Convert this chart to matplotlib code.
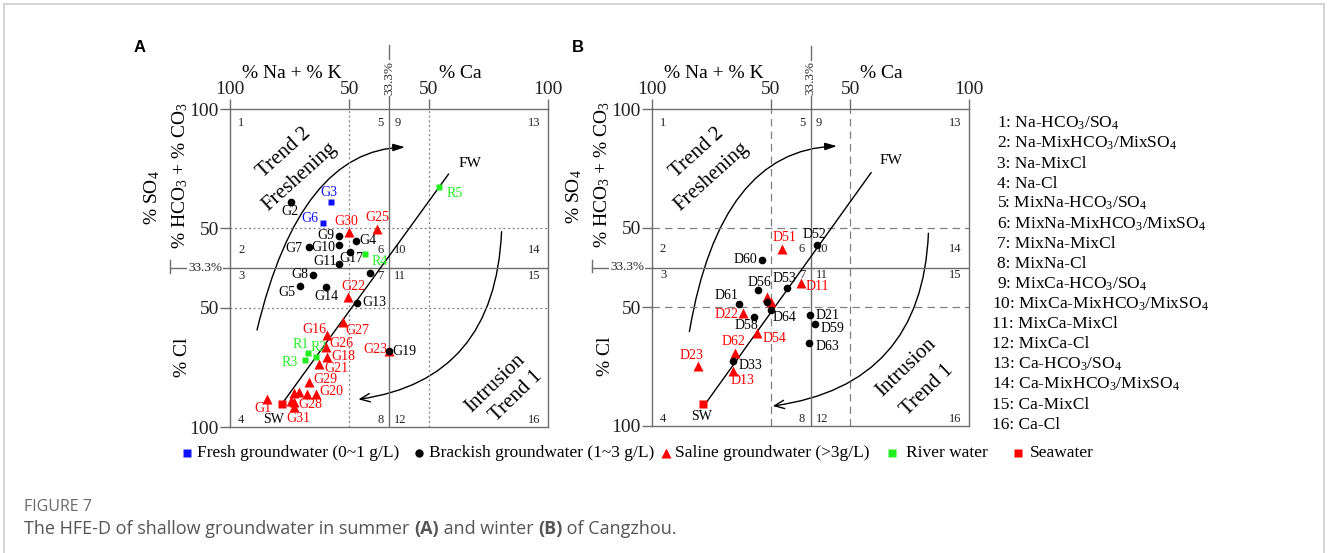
import matplotlib.pyplot as plt
from matplotlib.path import Path
from matplotlib.patches import FancyArrowPatch

plt.rcParams['font.family'] = ['Liberation Serif', 'DejaVu Serif']
plt.rcParams['mathtext.fontset'] = 'custom'
plt.rcParams['mathtext.rm'] = 'Liberation Serif'
plt.rcParams['mathtext.it'] = 'Liberation Serif:italic'

# ====== DATA (HFE-D diagram units: 0-100, 50% lines at 37.5 / 62.5, 33.3% at 50) ======
# --- summer (A) ---
a_fresh_id = ['G3', 'G6']
a_fresh_x = [31.7, 29.3]
a_fresh_y = [70.9, 64.2]

a_brack_id = ['G2', 'G9', 'G4', 'G7', 'G10', 'G17', 'G11', 'G8', '', 'G5', 'G14', 'G13', 'G19']
a_brack_x = [19.1, 34.2, 39.6, 24.7, 34.2, 37.8, 34.2, 26.2, 44.0, 21.9, 30.1, 40.0, 50.1]
a_brack_y = [70.7, 60.0, 58.6, 56.6, 57.2, 55.1, 51.3, 47.9, 48.4, 44.4, 43.9, 38.9, 24.0]

a_sal_id = ['G30', 'G25', 'G22', 'G27', 'G16', 'G26', 'G18', 'G21', 'G23', 'G29', 'G20',
            '', '', '', 'G28', '', 'G31', 'G1']
a_sal_x = [37.3, 46.2, 37.2, 35.6, 30.5, 30.3, 30.6, 28.1, 50.1, 24.9, 27.0,
           24.3, 21.8, 20.0, 20.2, 19.2, 20.2, 11.6]
a_sal_y = [61.4, 62.4, 40.9, 32.9, 29.0, 25.3, 21.9, 19.8, 24.0, 14.1, 10.3,
           10.3, 11.1, 10.7, 8.0, 8.2, 6.2, 8.7]

a_river_id = ['R5', 'R4', 'R1', 'R2', 'R3']
a_river_x = [65.6, 42.6, 24.6, 27.1, 23.6]
a_river_y = [75.4, 54.3, 23.2, 22.1, 21.2]

a_sea_id = ['SW']
a_sea_x = [16.3]
a_sea_y = [7.1]

# --- winter (B) ---
b_fresh_id, b_fresh_x, b_fresh_y = [], [], []

b_brack_id = ['D52', 'D60', 'D56', 'D53', 'D61', '', 'D64', 'D58', 'D21', 'D59', 'D63', 'D33']
b_brack_x = [52.1, 34.7, 33.3, 42.6, 27.5, 36.2, 37.5, 32.3, 49.8, 51.3, 49.5, 25.6]
b_brack_y = [57.1, 52.4, 42.9, 43.6, 38.4, 39.2, 36.6, 34.3, 35.0, 32.3, 26.1, 20.4]

b_sal_id = ['D51', 'D11', '', '', 'D22', 'D54', 'D62', 'D23', 'D13']
b_sal_x = [40.9, 46.9, 36.2, 37.4, 28.8, 33.2, 26.3, 14.4, 25.5]
b_sal_y = [55.7, 45.0, 40.6, 39.2, 35.6, 29.4, 22.9, 19.0, 17.4]

b_river_id, b_river_x, b_river_y = [], [], []

b_sea_id = ['SW']
b_sea_x = [16.2]
b_sea_y = [7.0]

# mixing line SW -> FW
a_mix_x = [15.7, 68.7]
a_mix_y = [6.4, 79.5]
b_mix_x = [16.2, 69.1]
b_mix_y = [6.1, 79.9]

# trend arrows (start, control, end)
a_fresh_arrow = [(8.5, 30.5), (22.0, 87.1), (55.0, 88.0)]
a_intr_arrow = [(85.4, 61.4), (83.3, 14.8), (40.4, 8.7)]
b_fresh_arrow = [(11.8, 29.8), (21.5, 87.1), (58.3, 88.3)]
b_intr_arrow = [(87.2, 60.8), (85.2, 12.9), (38.1, 6.3)]

water_types = ['Na-HCO$_3$/SO$_4$', 'Na-MixHCO$_3$/MixSO$_4$', 'Na-MixCl', 'Na-Cl',
               'MixNa-HCO$_3$/SO$_4$', 'MixNa-MixHCO$_3$/MixSO$_4$', 'MixNa-MixCl', 'MixNa-Cl',
               'MixCa-HCO$_3$/SO$_4$', 'MixCa-MixHCO$_3$/MixSO$_4$', 'MixCa-MixCl', 'MixCa-Cl',
               'Ca-HCO$_3$/SO$_4$', 'Ca-MixHCO$_3$/MixSO$_4$', 'Ca-MixCl', 'Ca-Cl']

# ====== LAYOUT ======
# label offsets in pixels (x right, y up)
LBL = {
    'G3': (-2, 9), 'G6': (-13, 4), 'G2': (-1, -9), 'G30': (-2, 10), 'G25': (0, 11),
    'G9': (-13, 1), 'G4': (12, 0), 'G7': (-15, -1), 'G10': (-15, -2), 'G17': (1, -7),
    'R4': (14, -7), 'G11': (-14, 2), 'G8': (-13, 0), 'G5': (-13, -7), 'G14': (1, -9),
    'G22': (5, 10), 'R5': (16, -6), 'G13': (17, 1), 'G27': (14, -8), 'G16': (-13, 5),
    'G26': (15, 3), 'R1': (-8, 9), 'R2': (3, 9), 'R3': (-15, -3), 'G18': (16, 1),
    'G21': (17, -4), 'G23': (-14, 1), 'G19': (15, -1), 'G29': (16, 3), 'G20': (16, 3),
    'G28': (16, -3), 'G31': (4, -11), 'G1': (-4, -9), 'SW_A': (-8, -15),
    'D51': (3, 12), 'D52': (-3, 10), 'D60': (-17, 0), 'D56': (2, 8), 'D53': (-3, 9),
    'D11': (17, -3), 'D61': (-13, 9), 'D22': (-17, -1), 'D64': (14, -8), 'D58': (-8, -8),
    'D21': (18, 0), 'D59': (18, -5), 'D54': (17, -6), 'D63': (18, -3), 'D62': (-2, 12),
    'D33': (17, -4), 'D23': (-6, 10), 'D13': (10, -10), 'SW_B': (-2, -13),
}

W, H = 1328, 553
fig = plt.figure(figsize=(W / 100, H / 100), dpi=100)

GRID = '#6e6e6e'
BLUE, RED, GREEN = '#1010ff', '#ff0000', '#22ee22'


def draw_panel(ax, tag, sets, mix_x, mix_y, fr_arrow, in_arrow, dash,
               fw_pos, trend2, fresh_pos, intr_pos, trend1):
    ax.set_xlim(0, 100)
    ax.set_ylim(0, 100)
    for s in ax.spines.values():
        s.set_color(GRID)
        s.set_linewidth(1)
    ax.xaxis.tick_top()
    ax.set_xticks([0, 37.5, 62.5, 100], ['100', '50', '50', '100'])
    ax.set_yticks([0, 37.5, 62.5, 100], ['100', '50', '50', '100'])
    ax.tick_params(length=7, width=1, color=GRID, labelsize=14, pad=1, labelcolor='#222222')

    # grid
    ax.axvline(50, color=GRID, lw=1)
    ax.axhline(50, color=GRID, lw=1)
    for v in (37.5, 62.5):
        ax.axvline(v, color='#808080', lw=0.9, ls=dash)
        ax.axhline(v, color='#808080', lw=0.9, ls=dash)

    # 33.3% markers outside
    ax.plot([50, 50], [100, 120], color=GRID, lw=1, clip_on=False)
    ax.text(50, 109.7, '33.3%', rotation=90, ha='center', va='center', fontsize=9.5,
            color='#222222', bbox=dict(fc='white', ec='none', pad=0.5), clip_on=False)
    ax.plot([-18.9, 0], [50, 50], color=GRID, lw=1, clip_on=False)
    ax.plot([-18.9, -18.9], [48.5, 52.5], color=GRID, lw=1, clip_on=False)
    ax.text(-7.9, 50, '33.3%', ha='center', va='center', fontsize=9.5, color='#222222',
            bbox=dict(fc='white', ec='none', pad=0.5), clip_on=False)

    # axis titles
    ax.text(19.5, 111.3, '% Na + % K', ha='center', va='center', fontsize=14, clip_on=False)
    ax.text(72.3, 111.3, '% Ca', ha='center', va='center', fontsize=14, clip_on=False)
    ax.text(-24.5, 72.3, '% SO$_4$', rotation=90, ha='center', va='center', fontsize=14)
    ax.text(-15.7, 79.2, '% HCO$_3$ + % CO$_3$', rotation=90, ha='center', va='center',
            fontsize=14)
    ax.text(-14.8, 22.0, '% Cl', rotation=90, ha='center', va='center', fontsize=14)

    # region numbers
    regions = [('1', 2.5, 95.5, 'left'), ('5', 48.3, 95.5, 'right'), ('9', 51.7, 95.5, 'left'),
               ('13', 97.6, 95.5, 'right'),
               ('2', 2.5, 55.7, 'left'), ('6', 48.3, 55.7, 'right'), ('10', 51.7, 55.7, 'left'),
               ('14', 97.6, 55.7, 'right'),
               ('3', 2.5, 47.6, 'left'), ('7', 48.3, 47.6, 'right'), ('11', 51.7, 47.6, 'left'),
               ('15', 97.6, 47.6, 'right'),
               ('4', 2.5, 2.2, 'left'), ('8', 48.3, 2.2, 'right'), ('12', 51.7, 2.2, 'left'),
               ('16', 97.6, 2.2, 'right')]
    for t, x, y, ha in regions:
        ax.text(x, y, t, ha=ha, va='center', fontsize=9, color='#222222')

    # mixing line
    ax.plot(mix_x, mix_y, color='k', lw=1, zorder=3)
    ax.text(fw_pos[0], fw_pos[1], 'FW', ha='center', va='center', fontsize=11)

    # trend arrows
    codes = [Path.MOVETO, Path.CURVE3, Path.CURVE3]
    ax.add_patch(FancyArrowPatch(path=Path(fr_arrow, codes), color='k', lw=1,
                                 arrowstyle='-|>,head_length=0.7,head_width=0.22',
                                 mutation_scale=10))
    ax.add_patch(FancyArrowPatch(path=Path(in_arrow, codes), color='k', lw=1,
                                 arrowstyle='->,head_length=0.7,head_width=0.3',
                                 mutation_scale=10))
    ax.text(*trend2, 'Trend 2', rotation=42, ha='center', va='center', fontsize=15,
            rotation_mode='anchor')
    ax.text(*fresh_pos, 'Freshening', rotation=42, ha='center', va='center', fontsize=15,
            rotation_mode='anchor')
    ax.text(*intr_pos, 'Intrusion', rotation=44, ha='center', va='center', fontsize=15,
            rotation_mode='anchor')
    ax.text(*trend1, 'Trend 1', rotation=44, ha='center', va='center', fontsize=15,
            rotation_mode='anchor')

    # samples
    styles = [('sal', '^', RED, 6.5, RED), ('fresh', 's', BLUE, 5, BLUE),
              ('river', 's', GREEN, 5, GREEN), ('sea', 's', RED, 6, 'k'),
              ('brack', 'o', 'k', 5.5, 'k')]
    for key, mk, col, ms, lcol in styles:
        ids, xs, ys = sets[key]
        if not ids:
            continue
        ax.plot(xs, ys, mk, color=col, ms=ms, mec='none', zorder=4, clip_on=False)
        for name, x, y in zip(ids, xs, ys):
            if not name:
                continue
            k = name + '_' + tag if name == 'SW' else name
            ax.annotate(name, (x, y), xytext=LBL[k], textcoords='offset pixels',
                        ha='center', va='center', fontsize=10, color=lcol)


ax_a = fig.add_axes([230 / W, (H - 427) / H, 318 / W, 318 / H])
ax_b = fig.add_axes([652 / W, (H - 426) / H, 317 / W, 317 / H])

draw_panel(ax_a, 'A',
           {'fresh': (a_fresh_id, a_fresh_x, a_fresh_y),
            'brack': (a_brack_id, a_brack_x, a_brack_y),
            'sal': (a_sal_id, a_sal_x, a_sal_y),
            'river': (a_river_id, a_river_x, a_river_y),
            'sea': (a_sea_id, a_sea_x, a_sea_y)},
           a_mix_x, a_mix_y, a_fresh_arrow, a_intr_arrow, (0, (1.5, 2.2)),
           (75.5, 83.0), (17.0, 86.2), (22.0, 78.6), (83.3, 13.8), (89.9, 9.7))

draw_panel(ax_b, 'B',
           {'fresh': (b_fresh_id, b_fresh_x, b_fresh_y),
            'brack': (b_brack_id, b_brack_x, b_brack_y),
            'sal': (b_sal_id, b_sal_x, b_sal_y),
            'river': (b_river_id, b_river_x, b_river_y),
            'sea': (b_sea_id, b_sea_x, b_sea_y)},
           b_mix_x, b_mix_y, b_fresh_arrow, b_intr_arrow, (0, (6, 4)),
           (75.4, 83.9), (14.2, 86.1), (18.9, 78.5), (80.1, 18.6), (86.8, 11.4))

# ====== figure-level overlay (pixel coords) ======
ov = fig.add_axes([0, 0, 1, 1])
ov.set_xlim(0, W)
ov.set_ylim(H, 0)
ov.axis('off')
ov.patch.set_visible(False)

ov.plot([4, 4, 1324, 1324], [H, 4, 4, H], color='#cccccc', lw=1.2)

for lab, x in (('A', 140), ('B', 578)):
    ov.text(x, 47, lab, ha='center', va='center', fontsize=12, fontweight='bold',
            family='Liberation Sans')

for i, t in enumerate(water_types):
    x = 997 if i < 9 else 992
    ov.text(x, 123.3 + 20.1 * i, f'{i + 1}: ' + t, ha='left', va='center', fontsize=12.5)

legend_items = [('s', BLUE, 187, 'Fresh groundwater (0~1 g/L)', 197),
                ('o', 'k', 419, 'Brackish groundwater (1~3 g/L)', 429),
                ('^', RED, 666, 'Saline groundwater (>3g/L)', 675),
                ('s', GREEN, 892, 'River water', 906),
                ('s', RED, 1018, 'Seawater', 1030)]
for mk, col, mx, txt, tx in legend_items:
    ov.plot([mx], [453], mk, color=col, ms=7 if mk == '^' else 6, mec='none')
    ov.text(tx, 453, txt, ha='left', va='center', fontsize=12.5)

# caption
ov.text(24, 507, 'FIGURE 7', ha='left', va='center', fontsize=11.5, color='#6a6a6a',
        family='Open Sans')
renderer = fig.canvas.get_renderer()
x = 24
for piece, bold in (('The HFE-D of shallow groundwater in summer ', False), ('(A)', True),
                    (' and winter ', False), ('(B)', True), (' of Cangzhou.', False)):
    t = ov.text(x, 529, piece, ha='left', va='center', fontsize=13, color='#555555',
                family='Open Sans', fontweight='bold' if bold else 'normal')
    x = t.get_window_extent(renderer).x1

fig.savefig('out.png', dpi=100)
